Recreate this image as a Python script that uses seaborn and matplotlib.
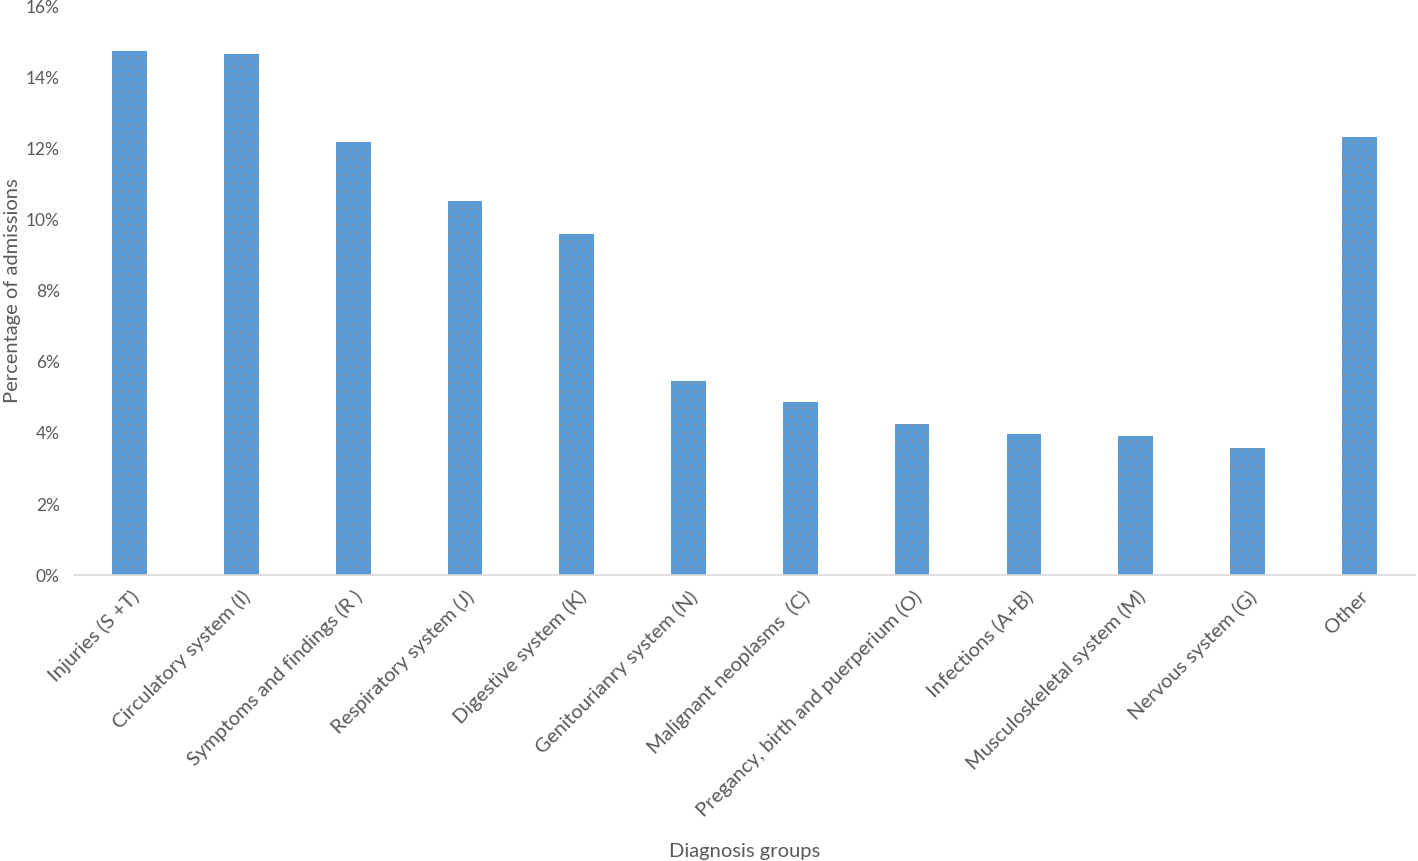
import matplotlib
matplotlib.use("Agg")
import matplotlib.pyplot as plt
import seaborn as sns
import pandas as pd

# values
groups = ['Injuries (S +T)', 'Circulatory system (I)', 'Symptoms and findings (R )',
          'Respiratory system (J)', 'Digestive system (K)', 'Genitourianry system (N)',
          'Malignant neoplasms  (C)', 'Pregancy, birth and puerperium (O)',
          'Infections (A+B)', 'Musculoskeletal system (M)', 'Nervous system (G)', 'Other']
pct = [14.74, 14.65, 12.17, 10.51, 9.60, 5.47, 4.86, 4.26, 3.98, 3.92, 3.58, 12.31]
yticks = [0, 2, 4, 6, 8, 10, 12, 14, 16]

data = pd.DataFrame({'group': groups, 'pct': pct})

sns.set_style('white')
plt.rcParams['font.family'] = ['Lato', 'DejaVu Sans']
plt.rcParams['hatch.color'] = '#A9917A'
plt.rcParams['hatch.linewidth'] = 0.25

txt = '#595959'
fig = plt.figure(figsize=(14.18, 8.61), dpi=100)
ax = fig.add_axes([0.052, 0.332, 0.946, 0.661])

sns.barplot(data=data, x='group', y='pct', color='#5B9BD5', width=0.31,
            saturation=1, ax=ax, linewidth=0)
# faint dotted texture like the original
for p in ax.patches:
    p.set_hatch('..')
    p.set_edgecolor('#A9917A')
    p.set_linewidth(0)

ax.set_ylim(0, 16)
ax.set_xlim(-0.5, len(groups) - 0.5)
ax.set_yticks(yticks)
ax.set_yticklabels([f'{v}%' for v in yticks], color=txt, fontsize=12.5)
ax.set_xticks(range(len(groups)))
ax.set_xticklabels(groups, rotation=45, ha='right', rotation_mode='anchor',
                   color=txt, fontsize=14.5)
ax.tick_params(axis='both', length=0, pad=10)
ax.tick_params(axis='x', pad=9)

for s in ['top', 'right', 'left']:
    ax.spines[s].set_visible(False)
ax.spines['bottom'].set_color('#D9D9D9')
ax.spines['bottom'].set_linewidth(1.2)

ax.set_ylabel('Percentage of admissions', color=txt, fontsize=14.5)
ax.set_xlabel('Diagnosis groups', color=txt, fontsize=14.5)
ax.yaxis.set_label_coords(-0.039, 0.5)
ax.xaxis.set_label_coords(0.5, -0.47)

fig.savefig('out.png', dpi=100)
